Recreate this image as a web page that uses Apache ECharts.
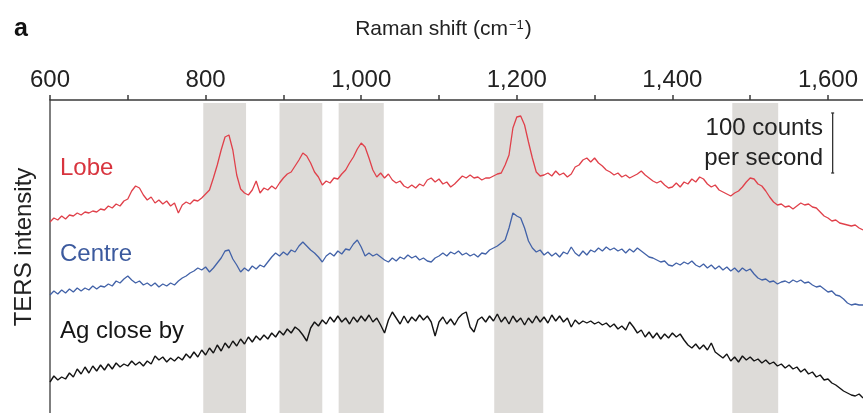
<!DOCTYPE html>
<html><head><meta charset="utf-8">
<script src="https://cdn.jsdelivr.net/npm/echarts@6/dist/echarts.min.js"></script>
<style>html,body{margin:0;padding:0;background:#fff}#c{width:863px;height:413px}</style>
</head><body><div id="c"></div>
<script>
// Raman shift sampling (cm^-1)
const shiftStart = 600;
const shiftStep = 5;

// TERS intensity (a.u., 60 units = 100 counts per second)
const lobe = [
191,195,193,197,194,198,197,200,198,201,200,202,201,204,203,207,205,209,207,212,
214,222,227,225,218,213,216,210,213,209,212,207,210,200,208,211,209,213,212,215,
219,223,235,248,263,276,278,263,238,224,220,218,223,232,220,225,223,227,224,230,
235,239,241,247,253,260,257,250,241,236,228,232,230,235,234,239,243,250,256,264,
270,266,255,243,236,240,235,239,233,230,232,227,225,228,225,229,227,233,235,231,
234,229,231,226,229,233,237,235,238,235,236,233,235,235,237,239,240,248,258,285,
296,297,288,271,255,241,237,238,240,237,242,238,240,236,239,246,248,253,255,251,
255,250,247,243,241,238,240,236,238,235,237,239,242,238,235,232,230,232,228,225,
226,230,226,231,229,234,231,236,234,229,226,228,223,221,219,217,220,222,226,231,
235,234,229,227,222,216,211,208,209,206,207,204,207,210,208,209,206,205,201,197,
195,192,193,190,189,188,187,188,185,183];

const centre = [
118,122,119,123,120,124,121,125,122,125,123,127,124,127,126,129,127,132,130,134,
137,133,130,132,128,130,127,130,126,129,127,130,128,132,135,137,140,142,145,143,
146,141,145,150,155,162,163,154,148,141,145,142,147,144,148,146,151,156,160,157,
161,158,163,161,167,171,167,163,160,156,151,157,160,157,162,159,164,163,169,173,
166,157,160,157,159,156,153,151,155,152,156,154,158,155,157,153,155,152,151,155,
157,160,157,161,159,162,158,160,157,159,156,160,159,163,165,167,170,173,185,200,
197,195,185,172,165,161,163,158,161,157,160,156,161,159,166,160,157,162,158,163,
161,165,162,166,163,165,162,164,160,164,161,165,162,159,156,155,153,151,152,148,
147,150,148,151,149,152,148,146,149,145,148,144,147,143,146,142,145,141,145,142,
144,139,135,133,134,131,132,129,131,132,130,133,131,133,130,131,128,126,127,124,
121,122,118,117,114,110,108,109,108,108];

const agCloseBy = [
31,37,33,36,34,40,36,44,39,46,40,47,42,48,43,49,44,50,46,49,
47,52,48,51,47,52,49,57,53,56,51,55,52,56,53,59,55,61,56,63,
58,65,60,68,62,70,65,72,67,74,69,76,71,77,73,78,74,80,76,82,
78,84,80,86,83,78,72,85,91,87,93,89,96,91,97,91,95,89,96,91,
97,92,98,91,95,88,80,93,101,95,89,97,90,96,92,98,93,97,91,77,
91,96,89,94,88,95,99,101,86,81,93,96,91,97,92,99,91,96,89,97,
91,95,88,95,90,97,91,96,90,98,92,97,91,95,86,93,89,92,90,92,
89,91,88,90,86,89,84,87,83,91,86,80,83,76,81,75,80,74,79,75,
80,76,79,73,68,65,69,64,68,63,70,61,58,55,59,52,56,51,57,53,
56,52,54,50,53,49,51,47,49,45,48,44,46,41,44,39,41,36,38,33,
34,30,28,25,22,20,18,17,19,15];

// shaded bands (cm^-1)
const bands = [[797,852],[895,950],[971,1029],[1171,1234],[1477,1536]];
// labelled ticks
const tickLabels = [600, 800, 1000, 1200, 1400, 1600];
const seriesNames = ['Lobe', 'Centre', 'Ag close by'];
// scale bar: x position, intensity from..to (100 counts per second)
const scaleBar = [[1606, 240, 300]];
const scaleText = ['100 counts', 'per second'];

const FONT = '"Liberation Sans", Arial, Helvetica, sans-serif';
const toPairs = arr => arr.map((v, i) => [shiftStart + i * shiftStep, v]);
const fmt = v => {
  if (tickLabels.indexOf(v) < 0) return '';
  return v >= 1000 ? Math.floor(v / 1000) + ',' + String(v % 1000).padStart(3, '0') : String(v);
};

const chart = echarts.init(document.getElementById('c'), null, {renderer: 'canvas'});
chart.setOption({
  animation: false,
  backgroundColor: '#fff',
  grid: {left: 50, right: 0, top: 100, bottom: 0, containLabel: false},
  xAxis: {
    type: 'value', position: 'top', min: 600, max: 1645, interval: 100,
    axisLine: {show: true, onZero: false, lineStyle: {color: '#3a3a3a', width: 1.5}},
    axisTick: {show: true, length: 5, lineStyle: {color: '#3a3a3a', width: 1.5}},
    splitLine: {show: false},
    axisLabel: {fontSize: 24, color: '#222', margin: 8, fontFamily: FONT, formatter: fmt, showMaxLabel: false},
    name: 'Raman shift (cm{sup|−1})', nameLocation: 'middle', nameGap: 60,
    nameTextStyle: {fontSize: 21, color: '#222', fontFamily: FONT, padding: [0, 26, 0, 0],
      rich: {sup: {fontSize: 13, verticalAlign: 'top', fontFamily: FONT, color: '#222', padding: [0, 1, 8, 1]}}}
  },
  yAxis: {
    type: 'value', min: 0, max: 313,
    axisLine: {show: true, onZero: false, lineStyle: {color: '#555', width: 1.5}},
    axisTick: {show: false}, axisLabel: {show: false}, splitLine: {show: false}
  },
  graphic: [
    {type: 'text', z: 100, left: 14, top: 17, style: {text: 'a', font: 'bold 25px ' + FONT, fill: '#111'}},
    {type: 'text', z: 100, x: 24, y: 247, rotation: Math.PI / 2,
      style: {text: 'TERS intensity', font: '24px ' + FONT, fill: '#222', align: 'center', verticalAlign: 'middle'}},
    {type: 'text', z: 100, x: 60, y: 168, style: {text: seriesNames[0], font: '24px ' + FONT, fill: '#d8343e', verticalAlign: 'middle'}},
    {type: 'text', z: 100, x: 60, y: 254, style: {text: seriesNames[1], font: '24px ' + FONT, fill: '#3c5a9e', verticalAlign: 'middle'}},
    {type: 'text', z: 100, x: 60, y: 331, style: {text: seriesNames[2], font: '24px ' + FONT, fill: '#151515', verticalAlign: 'middle'}},
    {type: 'text', z: 100, x: 823, y: 128, style: {text: scaleText[0], font: '24px ' + FONT, fill: '#222', align: 'right', verticalAlign: 'middle'}},
    {type: 'text', z: 100, x: 823, y: 158, style: {text: scaleText[1], font: '24px ' + FONT, fill: '#222', align: 'right', verticalAlign: 'middle'}}
  ],
  series: [
    {
      type: 'custom', z: 1, silent: true, clip: true,
      data: bands,
      encode: {x: [0, 1]},
      renderItem: (params, api) => {
        const p0 = api.coord([api.value(0), 313]);
        const p1 = api.coord([api.value(1), 0]);
        return {type: 'rect', shape: {x: p0[0], y: p0[1] + 3, width: p1[0] - p0[0], height: p1[1] - p0[1]},
          style: {fill: '#dddbd8'}};
      }
    },
    {name: seriesNames[0], type: 'line', z: 3, data: toPairs(lobe), showSymbol: false, symbol: 'none',
      lineStyle: {color: '#e0404a', width: 1.3}},
    {name: seriesNames[1], type: 'line', z: 3, data: toPairs(centre), showSymbol: false, symbol: 'none',
      lineStyle: {color: '#4262a8', width: 1.3}},
    {name: seriesNames[2], type: 'line', z: 3, data: toPairs(agCloseBy), showSymbol: false, symbol: 'none',
      lineStyle: {color: '#141414', width: 1.4}},
    {
      type: 'custom', z: 4, silent: true, clip: false,
      data: scaleBar,
      encode: {x: 0, y: [1, 2]},
      renderItem: (params, api) => {
        const a = api.coord([api.value(0), api.value(1)]);
        const b = api.coord([api.value(0), api.value(2)]);
        const st = {stroke: '#333', lineWidth: 1.3};
        return {type: 'group', children: [
          {type: 'line', shape: {x1: a[0], y1: a[1], x2: b[0], y2: b[1]}, style: st},
          {type: 'line', shape: {x1: a[0] - 1.5, y1: a[1], x2: a[0] + 1.5, y2: a[1]}, style: st},
          {type: 'line', shape: {x1: b[0] - 1.5, y1: b[1], x2: b[0] + 1.5, y2: b[1]}, style: st}
        ]};
      }
    }
  ]
});
</script>
</body></html>
